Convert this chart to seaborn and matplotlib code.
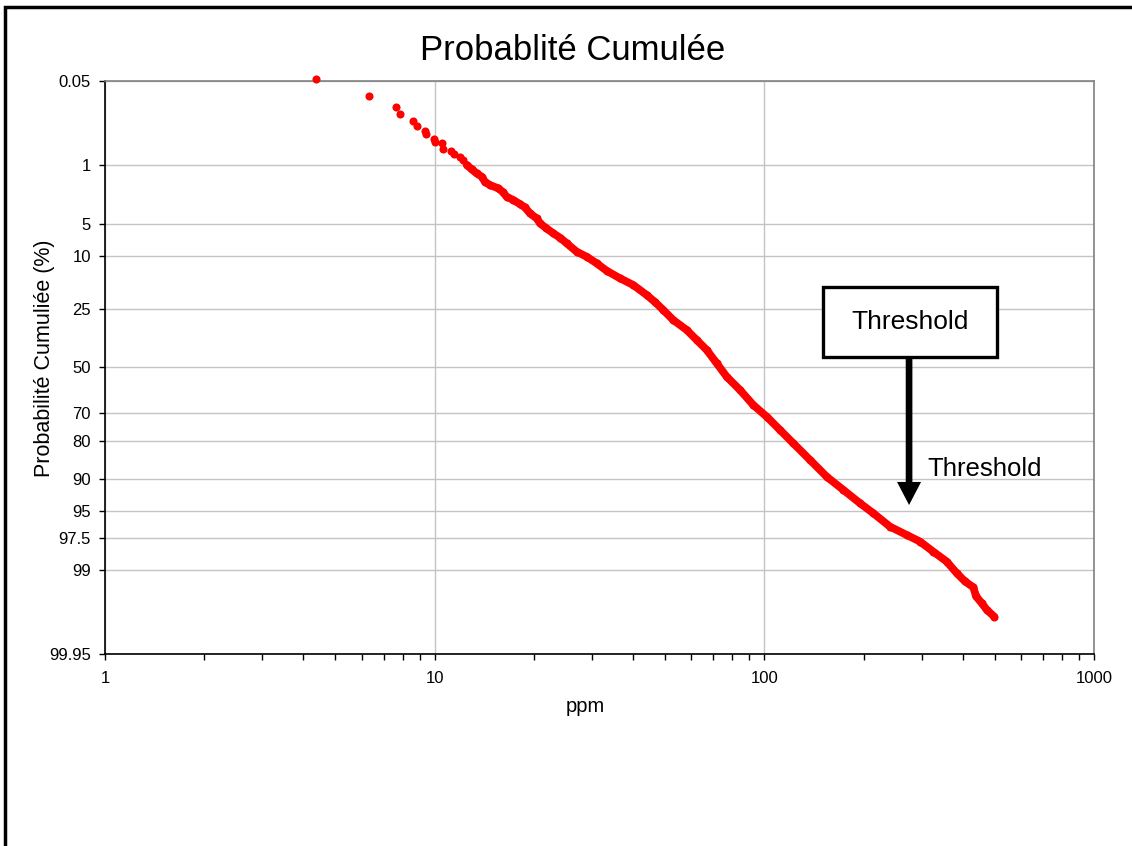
from statistics import NormalDist
import numpy as np
import pandas as pd
import matplotlib
matplotlib.use("Agg")
import matplotlib.pyplot as plt
import matplotlib.patches as patches
from matplotlib.ticker import FixedLocator, FixedFormatter, LogLocator, NullFormatter
import seaborn as sns

# Data: concentration (ppm) vs cumulative probability (%)
ppm = [4.36, 6.31, 7.65, 7.83, 8.60, 8.84, 9.37, 9.43, 9.93, 10.04,
       10.50, 10.58, 11.21, 11.42, 11.93, 12.21, 12.51, 12.95, 13.41, 13.89,
       14.21, 14.72, 15.60, 16.11, 16.53, 17.31, 18.15, 18.79, 19.46, 20.40,
       20.87, 21.77, 22.91, 24.08, 25.15, 26.97, 28.93, 31.01, 33.25, 36.50,
       40.05, 43.98, 46.59, 49.37, 52.94, 58.15, 62.35, 66.88, 71.72, 76.89,
       84.36, 92.60, 101.7, 111.6, 122.4, 137.6, 154.6, 173.6, 195.1, 214.1,
       240.5, 270.3, 296.6, 325.5, 357.5, 383.3, 406.2, 430.5, 438.7, 456.5,
       472.7, 498.4]
cum_pct = [0.046, 0.092, 0.139, 0.183, 0.23, 0.28, 0.327, 0.367, 0.43, 0.477,
           0.50, 0.605, 0.64, 0.718, 0.79, 0.86, 1.00, 1.14, 1.29, 1.42,
           1.65, 1.81, 1.98, 2.20, 2.49, 2.72, 3.03, 3.30, 3.84, 4.34,
           4.89, 5.46, 6.17, 6.85, 7.69, 9.18, 10.17, 11.58, 13.33, 15.29,
           17.18, 20.27, 22.60, 25.46, 29.29, 33.32, 37.60, 42.03, 48.08, 54.22,
           60.18, 66.68, 71.40, 76.36, 80.79, 85.59, 89.51, 92.01, 94.05, 95.29,
           96.62, 97.28, 97.72, 98.28, 98.71, 99.09, 99.30, 99.42, 99.57, 99.66,
           99.73, 99.79]

y_ticks = [0.05, 1, 5, 10, 25, 50, 70, 80, 90, 95, 97.5, 99, 99.95]
y_tick_labels = ["0.05", "1", "5", "10", "25", "50", "70", "80", "90", "95", "97.5", "99", "99.95"]
x_ticks = [1, 10, 100, 1000]
x_tick_labels = ["1", "10", "100", "1000"]

df = pd.DataFrame({"ppm": ppm, "pct": cum_pct})

# probability (normal) scale for the y axis
nd = NormalDist()
_inv = np.vectorize(lambda v: nd.inv_cdf(v / 100.0), otypes=[float])
_cdf = np.vectorize(lambda z: nd.cdf(z) * 100.0, otypes=[float])


def to_z(p):
    p = np.clip(np.asarray(p, dtype=float), 1e-7, 100 - 1e-7)
    return _inv(p)


def from_z(z):
    return _cdf(np.asarray(z, dtype=float))


sns.set_theme(style="white")
plt.rcParams["font.family"] = ["Liberation Sans", "DejaVu Sans"]
plt.rcParams["text.color"] = "black"
plt.rcParams["xtick.color"] = "black"
plt.rcParams["ytick.color"] = "black"

fig = plt.figure(figsize=(11.32, 8.46), dpi=100)
ax = fig.add_axes([105 / 1132, 1 - 654 / 846, 989 / 1132, 573 / 846])

red = "#ff0000"
sns.scatterplot(data=df, x="ppm", y="pct", color=red, s=34, linewidth=0,
                ax=ax, clip_on=False, zorder=4)
# dense part of the sample, where the dots merge into a band
sns.lineplot(data=df.iloc[16:], x="ppm", y="pct", sort=False, estimator=None,
             color=red, lw=5.6, ax=ax, zorder=3, solid_capstyle="round",
             solid_joinstyle="round")

ax.set_xscale("log")
ax.set_yscale("function", functions=(to_z, from_z))
ax.set_xlim(1, 1000)
ax.set_ylim(99.95, 0.05)

ax.xaxis.set_major_locator(FixedLocator(x_ticks))
ax.xaxis.set_major_formatter(FixedFormatter(x_tick_labels))
ax.xaxis.set_minor_locator(LogLocator(base=10, subs=np.arange(2, 10)))
ax.xaxis.set_minor_formatter(NullFormatter())
ax.yaxis.set_major_locator(FixedLocator(y_ticks))
ax.yaxis.set_major_formatter(FixedFormatter(y_tick_labels))
ax.yaxis.set_minor_locator(FixedLocator([]))

ax.tick_params(axis="x", which="both", direction="out", length=4, width=1,
               color="black", labelcolor="black", bottom=True, labelsize=12, pad=8)
ax.tick_params(axis="y", which="major", direction="out", length=4, width=1,
               color="black", labelcolor="black", left=True, labelsize=12, pad=6)

ax.grid(True, which="major", color="#c4c4c4", lw=1)
ax.set_axisbelow(True)
for side in ["left", "bottom"]:
    ax.spines[side].set_color("black")
    ax.spines[side].set_linewidth(1.2)
for side in ["top", "right"]:
    ax.spines[side].set_color("#808080")
    ax.spines[side].set_linewidth(1.2)

ax.set_xlabel("")
ax.set_ylabel("")
fig.text(585 / 1132, 1 - 706 / 846, "ppm", ha="center", va="center",
         fontsize=14.5, color="black")
fig.text(45 / 1132, 1 - 358 / 846, "Probabilité Cumuliée (%)", rotation=90,
         ha="center", va="center", fontsize=15.5, color="black")
fig.text(573 / 1132, 1 - 60 / 846, "Probablité Cumulée", ha="center",
         va="baseline", fontsize=25, color="black")

# threshold annotation
box = patches.Rectangle((0.7263, 0.519), 0.1753, 0.122, transform=ax.transAxes,
                        facecolor="white", edgecolor="black", lw=2.4, zorder=5)
ax.add_patch(box)
ax.text(0.814, 0.580, "Threshold", transform=ax.transAxes, ha="center",
        va="center", fontsize=19, color="black", zorder=6)
ax.annotate("", xy=(0.813, 0.260), xytext=(0.813, 0.519),
            xycoords="axes fraction", textcoords="axes fraction",
            arrowprops=dict(arrowstyle="simple,head_length=1.66,head_width=1.73,tail_width=0.48",
                            mutation_scale=10, fc="black", ec="none",
                            shrinkA=0, shrinkB=0), zorder=6)
ax.text(0.832, 0.323, "Threshold", transform=ax.transAxes, ha="left",
        va="center", fontsize=18.5, color="black", zorder=6)

# outer chart frame (runs off the right and bottom edges)
frame = patches.Rectangle((5 / 1132, -0.05), 1.2, 1 - 7 / 846 + 0.05,
                          transform=fig.transFigure, fill=False,
                          edgecolor="black", lw=2.5, clip_on=False)
fig.patches.append(frame)

fig.savefig("out.png", dpi=100)
